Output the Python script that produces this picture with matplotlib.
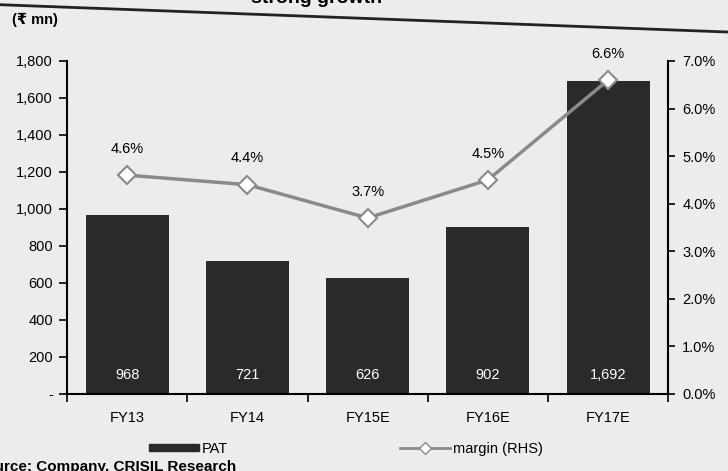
import matplotlib
matplotlib.use("Agg")
import matplotlib.pyplot as plt
from matplotlib.lines import Line2D
from matplotlib.patches import Rectangle
from matplotlib.ticker import FuncFormatter, MultipleLocator

plt.rcParams['font.family'] = ['Liberation Sans', 'DejaVu Sans']

years = ["FY13", "FY14", "FY15E", "FY16E", "FY17E"]
pat = [968, 721, 626, 902, 1692]          # (Rs mn)
margin = [4.6, 4.4, 3.7, 4.5, 6.6]        # PAT margin, %

bg = "#ececec"
bar_col = "#2a2a2a"
line_col = "#8a8a8a"
fs = 10.5

fig = plt.figure(figsize=(7.28, 4.71), dpi=100, facecolor=bg)
ax = fig.add_axes([0.092, 0.1635, 0.826, 0.707])
ax.set_facecolor("none")

x = list(range(len(years)))
ax.bar(x, pat, width=0.69, color=bar_col, zorder=2)
for xi, v in zip(x, pat):
    ax.text(xi, 100, f"{v:,}", ha="center", va="center", color="white", fontsize=fs)

ax.set_xlim(-0.5, 4.5)
ax.set_ylim(0, 1800)
ax.yaxis.set_major_locator(MultipleLocator(200))
ax.yaxis.set_major_formatter(FuncFormatter(lambda v, p: "-" if v == 0 else f"{v:,.0f}"))
ax.set_xticks(x)
ax.set_xticklabels(years)
ax.set_xticks([i + 0.5 for i in range(-1, 5)], minor=True)
ax.tick_params(axis="x", which="major", length=0, pad=12, labelsize=fs)
ax.tick_params(axis="x", which="minor", length=6, width=1.2, direction="out")
ax.tick_params(axis="y", length=6, width=1.2, direction="out", labelsize=fs, pad=4)
ax.spines["top"].set_visible(False)
ax.spines["right"].set_visible(False)
for s in ("left", "bottom"):
    ax.spines[s].set_linewidth(1.5)

ax2 = ax.twinx()
ax2.plot(x, margin, color=line_col, lw=2.5, marker="D", ms=9,
         mfc="white", mec=line_col, mew=1.5, zorder=3)
for xi, m in zip(x, margin):
    ax2.annotate(f"{m:.1f}%", (xi, m), xytext=(0, 19), textcoords="offset points",
                 ha="center", va="center", fontsize=fs)
ax2.set_ylim(0, 7)
ax2.yaxis.set_major_locator(MultipleLocator(1))
ax2.yaxis.set_major_formatter(FuncFormatter(lambda v, p: f"{v:.1f}%"))
ax2.tick_params(axis="y", length=5, width=1.2, direction="out", labelsize=fs, pad=5)
for s in ("top", "left", "bottom"):
    ax2.spines[s].set_visible(False)
ax2.spines["right"].set_linewidth(1.5)

fig.text(0.016, 0.957, "(₹ mn)", fontsize=fs, fontweight="bold", va="center")

# legend along the bottom
h_pat = Rectangle((0, 0), 1, 1, color=bar_col)
h_mar = Line2D([], [], color=line_col, lw=2, marker="D", ms=6, mfc="white", mec=line_col)
fig.legend([h_pat, h_mar], ["PAT", "margin (RHS)"], loc="center",
           bbox_to_anchor=(0.475, 0.047), ncol=2, frameon=False, fontsize=fs,
           handlelength=3.4, handleheight=0.4, handletextpad=0.2, columnspacing=11.8)

# title and source, cut at the page edges as in the scan
fig.text(0.525, 0.993, "strong growth", ha="right", va="baseline",
         fontsize=14, fontweight="bold")
fig.add_artist(Line2D([0, 1], [0.99, 0.932], color="#222222", lw=2))
fig.text(-0.035, 0.024, "Source: Company, CRISIL Research", ha="left", va="top",
         fontsize=11, fontweight="bold")

fig.savefig("out.png", dpi=100, facecolor=bg)
